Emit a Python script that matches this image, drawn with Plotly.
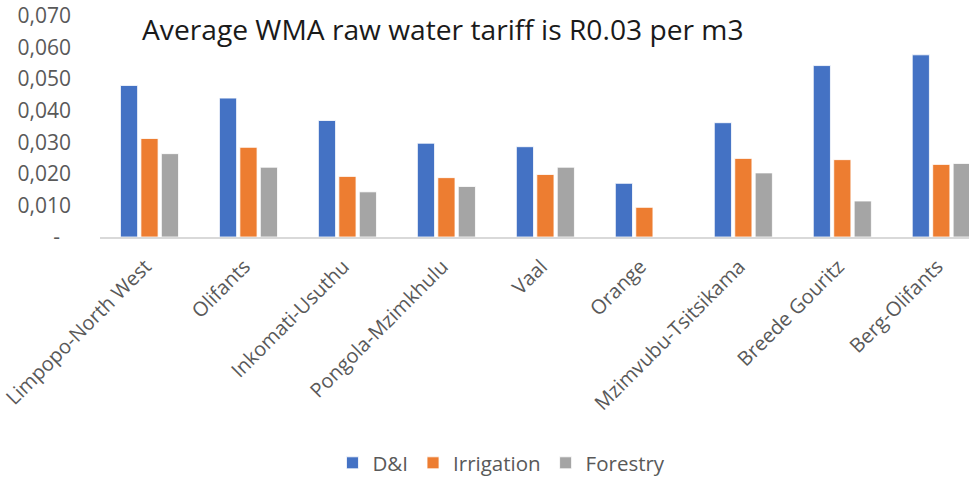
import plotly.graph_objects as go

categories = ["Limpopo-North West", "Olifants", "Inkomati-Usuthu", "Pongola-Mzimkhulu",
              "Vaal", "Orange", "Mzimvubu-Tsitsikama", "Breede Gouritz", "Berg-Olifants"]
di = [0.0480, 0.0440, 0.0369, 0.0297, 0.0286, 0.0170, 0.0362, 0.0543, 0.0577]
irrigation = [0.0312, 0.0284, 0.0192, 0.0188, 0.0198, 0.0094, 0.0249, 0.0245, 0.0230]
forestry = [0.0264, 0.0221, 0.0143, 0.0160, 0.0221, None, 0.0203, 0.0114, 0.0233]
ytick_vals = [0, 0.01, 0.02, 0.03, 0.04, 0.05, 0.06, 0.07]
ytick_text = ["-\u00a0\u00a0", "0,010", "0,020", "0,030", "0,040", "0,050", "0,060", "0,070"]

FONT = "Open Sans"
GRAY = "#595959"
W, H = 969, 478

fig = go.Figure()
for name, vals, color in [("D&I", di, "#4472C4"), ("Irrigation", irrigation, "#ED7D31"),
                          ("Forestry", forestry, "#A5A5A5")]:
    fig.add_trace(go.Bar(x=categories, y=vals, name=name,
                         marker=dict(color=color, line=dict(color="white", width=0.8))))

fig.update_layout(
    width=W, height=H,
    margin=dict(l=100, r=0, t=16, b=241, autoexpand=False),
    paper_bgcolor="white", plot_bgcolor="white",
    barmode="group", bargap=0.38, bargroupgap=0.16,
    font=dict(family=FONT, color=GRAY, size=20),
    title=dict(text="Average WMA raw water tariff is R0.03 per m3",
               x=142 / W, xanchor="left", y=1 - 30 / H, yanchor="middle",
               pad=dict(l=0, r=0, t=0, b=0),
               font=dict(family=FONT, size=28.2, color="#1a1a1a")),
    xaxis=dict(range=[-0.5, 8.28], tickangle=-45, showline=True, linecolor="#d9d9d9",
               linewidth=2, ticks="", tickfont=dict(size=20, color=GRAY), showgrid=False,
               automargin=False, ticklabelstandoff=8, ticklabelshift=-4),
    yaxis=dict(range=[0, 0.07], tickvals=ytick_vals, ticktext=ytick_text,
               showgrid=False, zeroline=False, showline=False, ticks="",
               ticklabelstandoff=28, tickfont=dict(size=21, color=GRAY), automargin=False),
    legend=dict(orientation="h", xref="paper", x=0.462, xanchor="center",
                yref="container", y=15 / H, yanchor="middle",
                font=dict(size=20.5, color=GRAY), itemclick=False),
)

fig.write_html("out.html", config={"displayModeBar": False},
               post_script="document.body.style.margin='0';document.body.style.overflow='hidden';")
